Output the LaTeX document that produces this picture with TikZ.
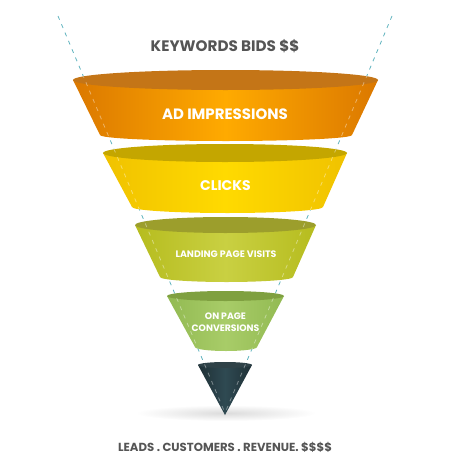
\documentclass[tikz,border=0pt]{standalone}
\usepackage{fontspec}
\setmainfont{Poppins}
\definecolor{txtgray}{HTML}{555555}
\definecolor{teald}{HTML}{5FB3BE}
\definecolor{orgtop}{HTML}{C47517}
\definecolor{orgedge}{HTML}{DB7800}
\definecolor{orgmid}{HTML}{FFAA00}
\definecolor{clktop}{HTML}{C4A600}
\definecolor{clkedge}{HTML}{F0C200}
\definecolor{clkmid}{HTML}{FFDA00}
\definecolor{lndtop}{HTML}{9C9E2C}
\definecolor{lndedge}{HTML}{B6BC1E}
\definecolor{lndmid}{HTML}{C9D042}
\definecolor{cnvtop}{HTML}{7FA040}
\definecolor{cnvedge}{HTML}{92BA52}
\definecolor{cnvmid}{HTML}{A8CC68}
\definecolor{drktop}{HTML}{2F4248}
\definecolor{drkedge}{HTML}{1F3036}
\definecolor{drkmid}{HTML}{2F4A52}
\begin{document}
\begin{tikzpicture}[x=1pt,y=-1pt,
  guide/.style={teald, line width=0.8pt, dash pattern=on 4pt off 5pt},
  innerdash/.style={white, opacity=0.4, line width=0.8pt, dash pattern=on 4pt off 5pt},
  dashin/.style={path picture={\draw[innerdash] (TL) -- (AP); \draw[innerdash] (TR) -- (AP);}},
  label/.style={text=white, font=\bfseries, align=center, inner sep=0pt},
  caption/.style={text=txtgray, font=\bfseries, inner sep=0pt}]
\useasboundingbox (0,0) rectangle (450,466);
\coordinate (TL) at (58,16);
\coordinate (TR) at (392,16);
\coordinate (AP) at (225,413);
% guide lines
\draw[guide] (TL) -- (AP);
\draw[guide] (TR) -- (AP);
% shadow
\shade[inner color=black!14, outer color=white] (226,413) ellipse [x radius=90pt, y radius=8pt];
% ad impressions
\shade[left color=orgedge, right color=orgedge, middle color=orgmid, dashin]
  (73,80) -- (100,135) arc[start angle=180, end angle=360, x radius=126pt, y radius=6pt] -- (378,80) -- cycle;
\fill[orgtop, dashin] (225.5,80) ellipse [x radius=152.5pt, y radius=10pt];
% clicks
\shade[left color=clkedge, right color=clkedge, middle color=clkmid, dashin]
  (103,153) -- (132,207) arc[start angle=180, end angle=360, x radius=95.5pt, y radius=6pt] -- (347,153) -- cycle;
\fill[clktop, dashin] (225,153) ellipse [x radius=122pt, y radius=9pt];
% landing
\shade[left color=lndedge, right color=lndedge, middle color=lndmid, dashin]
  (135,225) -- (160,277) arc[start angle=180, end angle=360, x radius=66.5pt, y radius=5pt] -- (316,225) -- cycle;
\fill[lndtop, dashin] (225.5,225) ellipse [x radius=90.5pt, y radius=8pt];
% conversions
\shade[left color=cnvedge, right color=cnvedge, middle color=cnvmid, dashin]
  (167,296) -- (195,347) arc[start angle=180, end angle=360, x radius=31pt, y radius=4pt] -- (284,296) -- cycle;
\fill[cnvtop, dashin] (225.5,296) ellipse [x radius=58.5pt, y radius=5pt];
% dark cone
\shade[left color=drkedge, right color=drkedge, middle color=drkmid, dashin]
  (198,365) -- (225,415) -- (252,365) -- cycle;
\fill[drktop, dashin] (225,365) ellipse [x radius=27pt, y radius=3pt];
% texts
\node[caption, font=\bfseries\fontsize{15.2}{18}\selectfont] (kw) at (225,46) {KEYWORDS BIDS \$\$};
\node[label, font=\bfseries\fontsize{15}{17}\selectfont] (ad) at (225,114) {AD IMPRESSIONS};
\node[label, font=\bfseries\fontsize{14}{16}\selectfont] (cl) at (225.5,186) {CLICKS};
\node[label, font=\bfseries\fontsize{9.4}{11}\selectfont] (lp) at (226,254) {LANDING PAGE VISITS};
\node[label, font=\bfseries\fontsize{9.3}{12}\selectfont] (cv) at (225.5,322) {ON PAGE\\CONVERSIONS};
\node[caption, font=\bfseries\fontsize{11.7}{13}\selectfont] (ld) at (225,447) {LEADS . CUSTOMERS . REVENUE. \$\$\$\$};
\end{tikzpicture}
\end{document}
